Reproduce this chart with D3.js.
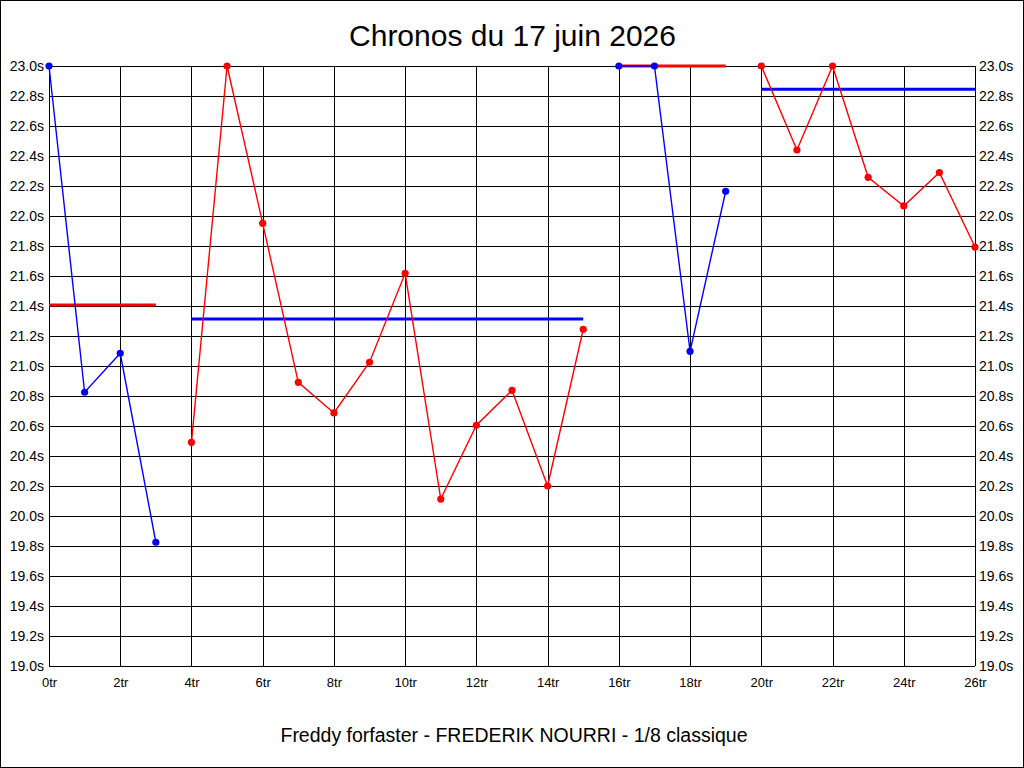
<!DOCTYPE html>
<html>
<head>
<meta charset="utf-8">
<script src="https://cdn.jsdelivr.net/npm/d3@7"></script>
<style>
  html, body { margin: 0; padding: 0; background: #fff; }
  svg { display: block; font-family: "Liberation Sans", Arial, sans-serif; }
</style>
</head>
<body>
<div id="chart"></div>
<script>
// Lap times (s), one per lap from 0tr to 26tr
const laps = d3.range(0, 27);
const times = [
    23.0, 20.825, 21.085, 19.825,
    20.491, 23.0, 21.951, 20.891, 20.687, 21.025, 21.618, 20.113, 20.605, 20.838, 20.2, 21.245,
    23.0, 23.0, 21.098, 22.165,
    23.0, 22.44, 23.0, 22.258, 22.067, 22.29, 21.793
];

// Runs: first and last lap of each, line colour, average and its colour
const runStarts = [0, 4, 16, 20];
const runEnds = [3, 15, 19, 26];
const runColors = ["#0000ff", "#ff0000", "#0000ff", "#ff0000"];
const runAverages = [21.407, 21.313, 23.0, 22.845];
const averageColors = ["#ff0000", "#0000ff", "#ff0000", "#0000ff"];

// Axis ticks
const xTicks = d3.range(0, 27, 2);
const yTicks = d3.range(0, 21).map(i => 19 + i * 0.2);

const title = "Chronos du 17 juin 2026";
const subtitle = "Freddy forfaster - FREDERIK NOURRI - 1/8 classique";

const W = 1024, H = 768;
const margin = { top: 66, right: 49, bottom: 102, left: 49 };
const width = W - margin.left - margin.right;
const height = H - margin.top - margin.bottom;

const svg = d3.select("#chart")
    .append("svg")
    .attr("width", W)
    .attr("height", H);

// outer frame
svg.append("rect")
    .attr("x", 0.5).attr("y", 0.5)
    .attr("width", W - 1).attr("height", H - 1)
    .attr("fill", "#fff")
    .attr("stroke", "#000");

const g = svg.append("g")
    .attr("transform", "translate(" + margin.left + "," + margin.top + ")");

const xScale = d3.scaleLinear().domain([0, 26]).range([0, width]);
const yScale = d3.scaleLinear().domain([19, 23]).range([height, 0]);

// grid
g.append("g")
    .selectAll("line.h")
    .data(yTicks)
    .join("line")
    .attr("x1", 0).attr("x2", width)
    .attr("y1", d => Math.round(yScale(d)) + 0.5)
    .attr("y2", d => Math.round(yScale(d)) + 0.5)
    .attr("stroke", "#000")
    .attr("shape-rendering", "crispEdges");

g.append("g")
    .selectAll("line.v")
    .data(xTicks)
    .join("line")
    .attr("x1", d => Math.round(xScale(d)) + 0.5)
    .attr("x2", d => Math.round(xScale(d)) + 0.5)
    .attr("y1", 0).attr("y2", height)
    .attr("stroke", "#000")
    .attr("shape-rendering", "crispEdges");

// axes (labels only, the grid draws the lines)
const yLeft = g.append("g")
    .call(d3.axisLeft(yScale).tickValues(yTicks).tickSize(0).tickPadding(5)
        .tickFormat(d => d3.format(".1f")(d) + "s"));
const yRight = g.append("g")
    .attr("transform", "translate(" + width + ",0)")
    .call(d3.axisRight(yScale).tickValues(yTicks).tickSize(0).tickPadding(4)
        .tickFormat(d => d3.format(".1f")(d) + "s"));
const xAxis = g.append("g")
    .attr("transform", "translate(0," + height + ")")
    .call(d3.axisBottom(xScale).tickValues(xTicks).tickSize(0).tickPadding(12)
        .tickFormat(d => d + "tr"));

[yLeft, yRight, xAxis].forEach(a => {
    a.select(".domain").remove();
    a.selectAll("text")
        .attr("fill", "#000")
        .attr("font-family", "'Liberation Sans', Arial, sans-serif");
});
yLeft.selectAll("text").attr("font-size", 14);
yRight.selectAll("text").attr("font-size", 14);
xAxis.selectAll("text").attr("font-size", 13);

// clip data to the plot area
svg.append("defs").append("clipPath").attr("id", "plot")
    .append("rect")
    .attr("x", -4).attr("y", -4)
    .attr("width", width + 8).attr("height", height + 8);

const dataG = g.append("g").attr("clip-path", "url(#plot)");

const line = d3.line()
    .x(d => xScale(d))
    .y(d => yScale(times[d]));

runStarts.forEach((s, i) => {
    const run = laps.filter(l => l >= s && l <= runEnds[i]);

    // average line
    dataG.append("line")
        .attr("x1", xScale(s))
        .attr("x2", xScale(runEnds[i]))
        .attr("y1", yScale(runAverages[i]))
        .attr("y2", yScale(runAverages[i]))
        .attr("stroke", averageColors[i])
        .attr("stroke-width", 3);

    dataG.append("path")
        .datum(run)
        .attr("d", line)
        .attr("fill", "none")
        .attr("stroke", runColors[i])
        .attr("stroke-width", 1.4);

    dataG.selectAll(null)
        .data(run)
        .join("circle")
        .attr("cx", d => xScale(d))
        .attr("cy", d => yScale(times[d]))
        .attr("r", 3.6)
        .attr("fill", runColors[i]);
});

// titles
svg.append("text")
    .attr("x", W / 2 + 0.5)
    .attr("y", 46)
    .attr("text-anchor", "middle")
    .attr("font-size", 30)
    .attr("fill", "#000")
    .text(title);

svg.append("text")
    .attr("x", W / 2 + 2)
    .attr("y", 742)
    .attr("text-anchor", "middle")
    .attr("font-size", 19.5)
    .attr("fill", "#000")
    .text(subtitle);
</script>
</body>
</html>
